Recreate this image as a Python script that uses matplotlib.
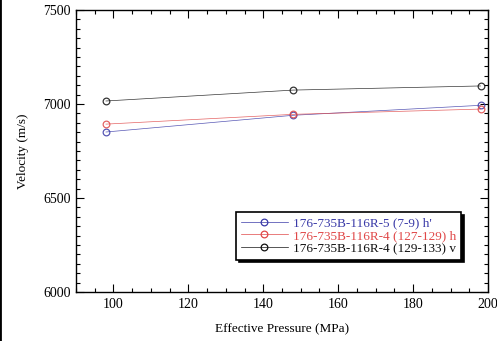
import matplotlib
matplotlib.use('Agg')
import matplotlib.pyplot as plt
from matplotlib.ticker import MultipleLocator
from matplotlib.lines import Line2D

plt.rcParams['font.family'] = ['Liberation Serif', 'DejaVu Serif']

pressure = [98, 148, 198]
vel_h_prime = [6851, 6940, 6993]
vel_h = [6893, 6945, 6973]
vel_v = [7016, 7074, 7096]

labels = ["176-735B-116R-5 (7-9) h'",
          "176-735B-116R-4 (127-129) h",
          "176-735B-116R-4 (129-133) v"]
colors = ['#3a3aa8', '#e04848', '#111111']

fig = plt.figure(figsize=(4.97, 3.41), dpi=100)
ax = fig.add_axes([76 / 497, 1 - 292 / 341, 412 / 497, 282 / 341])

for y, lab, c in zip([vel_h_prime, vel_h, vel_v], labels, colors):
    ax.plot(pressure, y, color=c, lw=0.5, alpha=0.85, marker='o', ms=4.8,
            mfc='none', mec=c, mew=0.9, label=lab)

ax.set_xlim(90, 200)
ax.set_ylim(6000, 7500)
ax.xaxis.set_major_locator(MultipleLocator(20))
ax.xaxis.set_minor_locator(MultipleLocator(5))
ax.yaxis.set_major_locator(MultipleLocator(500))
ax.yaxis.set_minor_locator(MultipleLocator(50))
ax.tick_params(which='both', direction='in', top=True, right=True,
               labelsize=10, width=0.8, pad=4)
ax.tick_params(which='major', length=6)
ax.tick_params(which='minor', length=3)
for s in ax.spines.values():
    s.set_linewidth(1.0)

ax.set_xlabel('Effective Pressure (MPa)', fontsize=9.5, labelpad=9)
ax.set_ylabel('Velocity (m/s)', fontsize=9.5, labelpad=10)

leg = ax.legend(loc='lower right', bbox_to_anchor=(0.935, 0.115), fontsize=9.5,
                frameon=True, fancybox=False,
                shadow={'color': 'black', 'alpha': 1, 'ox': 2, 'oy': -2},
                handlelength=3.6, handletextpad=0.4, borderpad=0.35,
                labelspacing=0.05, borderaxespad=0)
leg.get_frame().set_edgecolor('black')
leg.get_frame().set_linewidth(1.2)
for txt, c in zip(leg.get_texts(), colors):
    txt.set_color(c)
for h in leg.legend_handles:
    h.set_alpha(1)

fig.add_artist(Line2D([0, 0], [0, 1], color='black', lw=2.0,
                      transform=fig.transFigure))

fig.savefig('out.png', dpi=100)
